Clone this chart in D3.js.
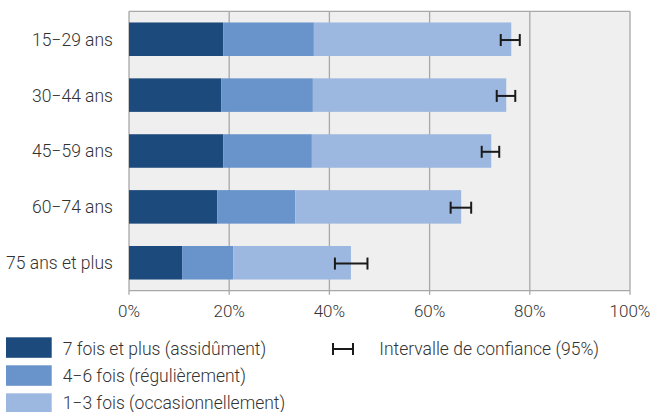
<!DOCTYPE html>
<html><head><meta charset="utf-8">
<script src="https://cdn.jsdelivr.net/npm/d3@7"></script>
<style>
body{margin:0;background:#fff;}
text{font-family:Roboto,"Noto Sans",sans-serif;font-weight:300;fill:#333;}
</style></head>
<body><svg id="c" width="650" height="412"></svg>
<script>
const categories = ["15−29 ans","30−44 ans","45−59 ans","60−74 ans","75 ans et plus"];
const seriesNames = ["7 fois et plus (assidûment)","4−6 fois (régulièrement)","1−3 fois (occasionnellement)"];
const assidu   = [18.8,18.4,18.8,17.6,10.6];
const regulier = [18.1,18.3,17.7,15.6,10.2];
const occasion = [39.4,38.6,35.8,33.1,23.5];
const ciLow  = [74.2,73.4,70.4,64.2,41.1];
const ciHigh = [78.0,77.1,73.9,68.3,47.6];
const xTicks = [0,20,40,60,80,100];
const ciLabel = "Intervalle de confiance (95%)";
const colors = ["#1d4a7c","#6893cb","#9db8e0"];

const svg = d3.select("#c");
const m = {l:129, t:11.3, w:501, h:279.4};
const g = svg.append("g").attr("transform",`translate(${m.l},${m.t})`);
const x = d3.scaleLinear().domain([0,100]).range([0,m.w]);
const y = d3.scaleBand().domain(categories).range([0,m.h]).paddingInner(0.4).paddingOuter(0.2);

g.append("rect").attr("width",m.w).attr("height",m.h).attr("fill","#efefef");

// grid
g.selectAll("line.grid").data(xTicks).join("line").attr("class","grid")
  .attr("x1",d=>x(d)).attr("x2",d=>x(d)).attr("y1",0).attr("y2",m.h+4)
  .attr("stroke","#a8a8a8").attr("stroke-width",1.3);
g.append("line").attr("x1",0).attr("x2",m.w).attr("y1",0).attr("y2",0).attr("stroke","#a8a8a8").attr("stroke-width",1.3);
g.append("line").attr("x1",0).attr("x2",m.w).attr("y1",m.h).attr("y2",m.h).attr("stroke","#a8a8a8").attr("stroke-width",1.3);

const rows = categories.map((c,i)=>({c, v:[assidu[i],regulier[i],occasion[i]], lo:ciLow[i], hi:ciHigh[i]}));
const stack = d3.stack().keys([0,1,2]).value((d,k)=>d.v[k])(rows);
g.selectAll("g.s").data(stack).join("g").attr("fill",(d,i)=>colors[i])
 .selectAll("rect").data(d=>d.map((p,j)=>({p,c:rows[j].c}))).join("rect")
 .attr("x",d=>x(d.p[0])).attr("width",d=>x(d.p[1])-x(d.p[0]))
 .attr("y",d=>y(d.c)).attr("height",y.bandwidth());

// error bars
const eb = g.selectAll("g.eb").data(rows).join("g").attr("transform",d=>`translate(0,${y(d.c)+y.bandwidth()/2+0.8})`)
  .attr("stroke","#1a1a1a").attr("stroke-width",2);
eb.append("line").attr("x1",d=>x(d.lo)).attr("x2",d=>x(d.hi));
eb.append("line").attr("x1",d=>x(d.lo)).attr("x2",d=>x(d.lo)).attr("y1",-6).attr("y2",6);
eb.append("line").attr("x1",d=>x(d.hi)).attr("x2",d=>x(d.hi)).attr("y1",-6).attr("y2",6);

// axes labels
g.selectAll("text.xt").data(xTicks).join("text").attr("class","xt")
  .attr("x",d=>x(d)).attr("y",m.h+26.3).attr("text-anchor","middle").attr("font-size",17)
  .text(d=>d+"%");
g.selectAll("text.yt").data(categories).join("text").attr("class","yt")
  .attr("x",-16).attr("y",d=>y(d)+y.bandwidth()/2+6.5).attr("text-anchor","end").attr("font-size",17.5)
  .text(d=>d);

// legend
const lg = svg.append("g");
seriesNames.forEach((n,i)=>{
  const yy = 337.3 + i*28;
  lg.append("rect").attr("x",6).attr("y",yy).attr("width",45.7).attr("height",20.5).attr("fill",colors[i]);
  lg.append("text").attr("x",62.7).attr("y",355 + i*27.2).attr("font-size",17.5).text(n);
});
const ci = lg.append("g").attr("stroke","#1a1a1a").attr("stroke-width",2);
ci.append("line").attr("x1",333).attr("x2",353).attr("y1",349).attr("y2",349);
ci.append("line").attr("x1",333).attr("x2",333).attr("y1",343).attr("y2",355);
ci.append("line").attr("x1",353).attr("x2",353).attr("y1",343).attr("y2",355);
lg.append("text").attr("x",379.3).attr("y",355).attr("font-size",17.5).text(ciLabel);
</script></body></html>
